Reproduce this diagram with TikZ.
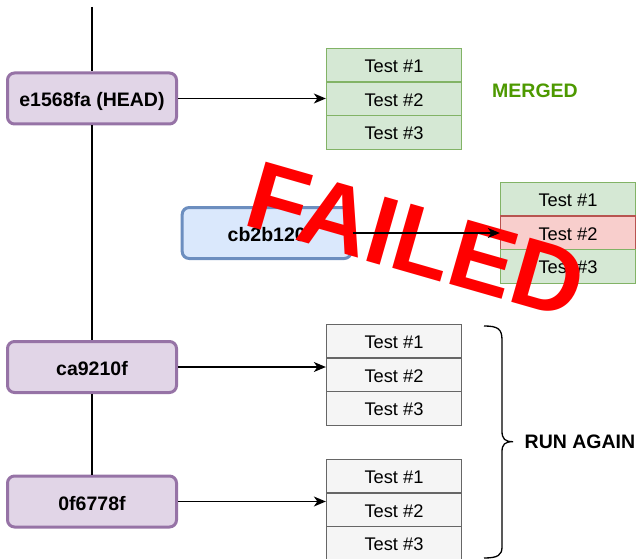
\documentclass[tikz,border=0pt]{standalone}
\usepackage{fontspec}
\setmainfont{Liberation Sans}
\usetikzlibrary{arrows.meta}

\definecolor{commitfill}{HTML}{E1D5E7}
\definecolor{commitline}{HTML}{9673A6}
\definecolor{branchfill}{HTML}{DAE8FC}
\definecolor{branchline}{HTML}{6C8EBF}
\definecolor{passfill}{HTML}{D5E8D4}
\definecolor{passline}{HTML}{82B366}
\definecolor{failfill}{HTML}{F8CECC}
\definecolor{failline}{HTML}{B85450}
\definecolor{idlefill}{HTML}{F5F5F5}
\definecolor{idleline}{HTML}{666666}
\definecolor{mergedgreen}{HTML}{4D9900}
\definecolor{stampred}{HTML}{FF0000}

\begin{document}
\begin{tikzpicture}[x=1pt,y=-1pt,
  commit/.style={draw=commitline, fill=commitfill, line width=3pt,
    rounded corners=7pt, minimum width=169pt, minimum height=51pt,
    inner sep=0pt, font=\fontsize{19.5}{20}\selectfont\bfseries,
    text height=17pt, text depth=0pt},
  branch/.style={commit, draw=branchline, fill=branchfill},
  testrow/.style={draw, line width=1.3pt, minimum width=135pt,
    minimum height=33.7pt, inner sep=0pt,
    font=\fontsize{18.3}{20}\selectfont, text height=14.5pt, text depth=0pt},
  pass/.style={testrow, draw=passline, fill=passfill},
  fail/.style={testrow, draw=failline, fill=failfill},
  idle/.style={testrow, draw=idleline, fill=idlefill},
  link/.style={line width=1.3pt},
  runs/.style={line width=1.3pt, -{Stealth[length=12pt,width=10pt,inset=3.5pt]}},
  tag/.style={inner sep=0pt, font=\fontsize{19.5}{20}\selectfont\bfseries,
    text height=14pt, text depth=0pt}
]
\useasboundingbox (0,0) rectangle (640,559);

% commits on the main line
\coordinate (top) at (92,7);
\node[commit] (e1) at (92,98.5) {e1568fa (HEAD)};
\node[commit] (ca) at (92,367) {ca9210f};
\node[commit] (of) at (92,501.5) {0f6778f};
\draw[link] (top) -- (e1.north);
\draw[link] (e1.south) -- (ca.north);
\draw[link] (ca.south) -- (of.north);

% side branch commit
\node[branch] (cb) at (266.7,233) {cb2b120};

% test runs of the merged commit
\node[pass] (g1a) at (394,65.2) {Test \#1};
\node[pass] (g1b) at (394,98.9) {Test \#2};
\node[pass] (g1c) at (394,132.6) {Test \#3};

% test runs of the branch commit
\node[pass] (g2a) at (568,199.2) {Test \#1};
\node[fail] (g2b) at (568,232.9) {Test \#2};
\node[pass] (g2c) at (568,266.6) {Test \#3};

% test runs to repeat
\node[idle] (g3a) at (394,341.2) {Test \#1};
\node[idle] (g3b) at (394,374.9) {Test \#2};
\node[idle] (g3c) at (394,408.6) {Test \#3};

\node[idle] (g4a) at (394,476.2) {Test \#1};
\node[idle] (g4b) at (394,509.9) {Test \#2};
\node[idle] (g4c) at (394,543.6) {Test \#3};

\draw[runs] (e1.east) -- (e1.east -| g1b.west);
\draw[runs] (ca.east) -- (ca.east -| g3b.west);
\draw[runs] (of.east) -- (of.east -| g4b.west);

% labels
\node[tag, text=mergedgreen] (merged) at (535,91) {MERGED};

\draw[line width=1.3pt]
  (484,326) .. controls (498,326) and (502,329) .. (502,340)
  -- (502,431) .. controls (502,439) and (505,441.7) .. (513,441.7)
  .. controls (505,441.7) and (502,444) .. (502,452)
  -- (502,547) .. controls (502,555) and (498,558) .. (484,558);
\node[tag, anchor=west] (again) at (524.5,441.7) {RUN AGAIN};

% stamp over the branch
\node[rotate=-16, text=stampred, inner sep=0pt,
  font=\fontsize{97}{97}\selectfont\bfseries,
  text height=69.5pt, text depth=0pt] (stamp) at (417,239) {FAILED};

\draw[runs] (cb.east) -- (cb.east -| g2b.west);
\end{tikzpicture}
\end{document}
